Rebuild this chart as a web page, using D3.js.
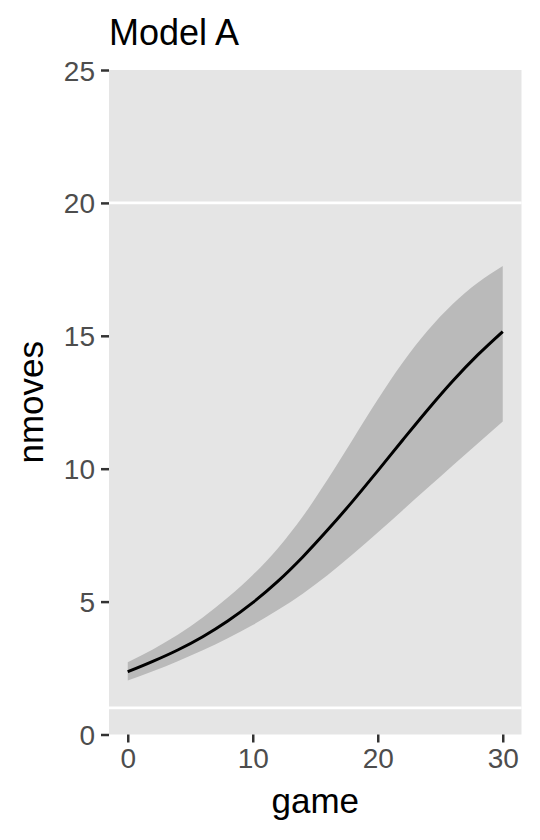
<!DOCTYPE html>
<html>
<head>
<meta charset="utf-8">
<script src="https://cdn.jsdelivr.net/npm/d3@7"></script>
<style>
  body { margin: 0; background: #fff; }
  text { font-family: "Liberation Sans", Arial, sans-serif; }
</style>
</head>
<body>
<div id="chart"></div>
<script>
// data
const games = [0, 2, 4, 6, 8, 10, 12, 14, 16, 18, 20, 22, 24, 26, 28, 30];
const fitMoves = [2.36, 2.75, 3.18, 3.68, 4.27, 4.96, 5.76, 6.68, 7.7, 8.78, 9.92, 11.08, 12.22, 13.3, 14.28, 15.16];
const lowerMoves = [2.03, 2.38, 2.76, 3.17, 3.62, 4.12, 4.68, 5.3, 6.0, 6.78, 7.6, 8.44, 9.28, 10.12, 10.95, 11.78];
const upperMoves = [2.72, 3.2, 3.75, 4.4, 5.15, 6.0, 7.0, 8.2, 9.6, 11.1, 12.6, 14.0, 15.2, 16.2, 17.0, 17.63];
const refLines = [1, 20];
const xTicks = [0, 10, 20, 30];
const yTicks = [0, 5, 10, 15, 20, 25];

const rows = games.map((g, i) => ({
  game: g, fit: fitMoves[i], lo: lowerMoves[i], hi: upperMoves[i]
}));

// layout
const fullWidth = 540;
const fullHeight = 840;
const panel = { left: 109, right: 521.5, top: 70, bottom: 734.5 };

const svg = d3.select('#chart').append('svg')
  .attr('width', fullWidth)
  .attr('height', fullHeight);

const x = d3.scaleLinear().domain([-1.5, 31.5]).range([panel.left, panel.right]);
const y = d3.scaleLinear().domain([0, 25]).range([panel.bottom, panel.top]);

// panel background
svg.append('rect')
  .attr('x', panel.left)
  .attr('y', panel.top)
  .attr('width', panel.right - panel.left)
  .attr('height', panel.bottom - panel.top)
  .attr('fill', '#E5E5E5');

// white reference lines
svg.selectAll('.ref')
  .data(refLines)
  .enter().append('line')
  .attr('class', 'ref')
  .attr('x1', panel.left)
  .attr('x2', panel.right)
  .attr('y1', d => y(d))
  .attr('y2', d => y(d))
  .attr('stroke', '#fff')
  .attr('stroke-width', 2.6);

// ribbon
const area = d3.area()
  .x(d => x(d.game))
  .y0(d => y(d.lo))
  .y1(d => y(d.hi))
  .curve(d3.curveMonotoneX);

svg.append('path')
  .datum(rows)
  .attr('d', area)
  .attr('fill', '#BABABA');

// fitted line
const line = d3.line()
  .x(d => x(d.game))
  .y(d => y(d.fit))
  .curve(d3.curveMonotoneX);

svg.append('path')
  .datum(rows)
  .attr('d', line)
  .attr('fill', 'none')
  .attr('stroke', '#000')
  .attr('stroke-width', 3);

// axes
const yAxis = svg.append('g')
  .attr('transform', `translate(${panel.left},0)`)
  .call(d3.axisLeft(y).tickValues(yTicks).tickSize(8).tickPadding(6));

const xAxis = svg.append('g')
  .attr('transform', `translate(0,${panel.bottom})`)
  .call(d3.axisBottom(x).tickValues(xTicks).tickSize(8).tickPadding(6));

[xAxis, yAxis].forEach(ax => {
  ax.select('.domain').remove();
  ax.selectAll('.tick line').attr('stroke', '#333').attr('stroke-width', 2.5);
  ax.selectAll('.tick text')
    .attr('fill', '#4D4D4D')
    .style('font-size', '28px')
    .style('font-family', '"Liberation Sans", Arial, sans-serif');
});

yAxis.selectAll('.tick text').attr('dy', '0.36em');
xAxis.selectAll('.tick text').attr('dy', '0.71em');

// titles
svg.append('text')
  .attr('x', 109)
  .attr('y', 45)
  .style('font-size', '36px')
  .attr('fill', '#000')
  .text('Model A');

svg.append('text')
  .attr('x', (panel.left + panel.right) / 2)
  .attr('y', 813)
  .attr('text-anchor', 'middle')
  .style('font-size', '35px')
  .attr('fill', '#000')
  .text('game');

svg.append('text')
  .attr('transform', `translate(43,${(panel.top + panel.bottom) / 2}) rotate(-90)`)
  .attr('text-anchor', 'middle')
  .style('font-size', '35px')
  .attr('fill', '#000')
  .text('nmoves');
</script>
</body>
</html>
